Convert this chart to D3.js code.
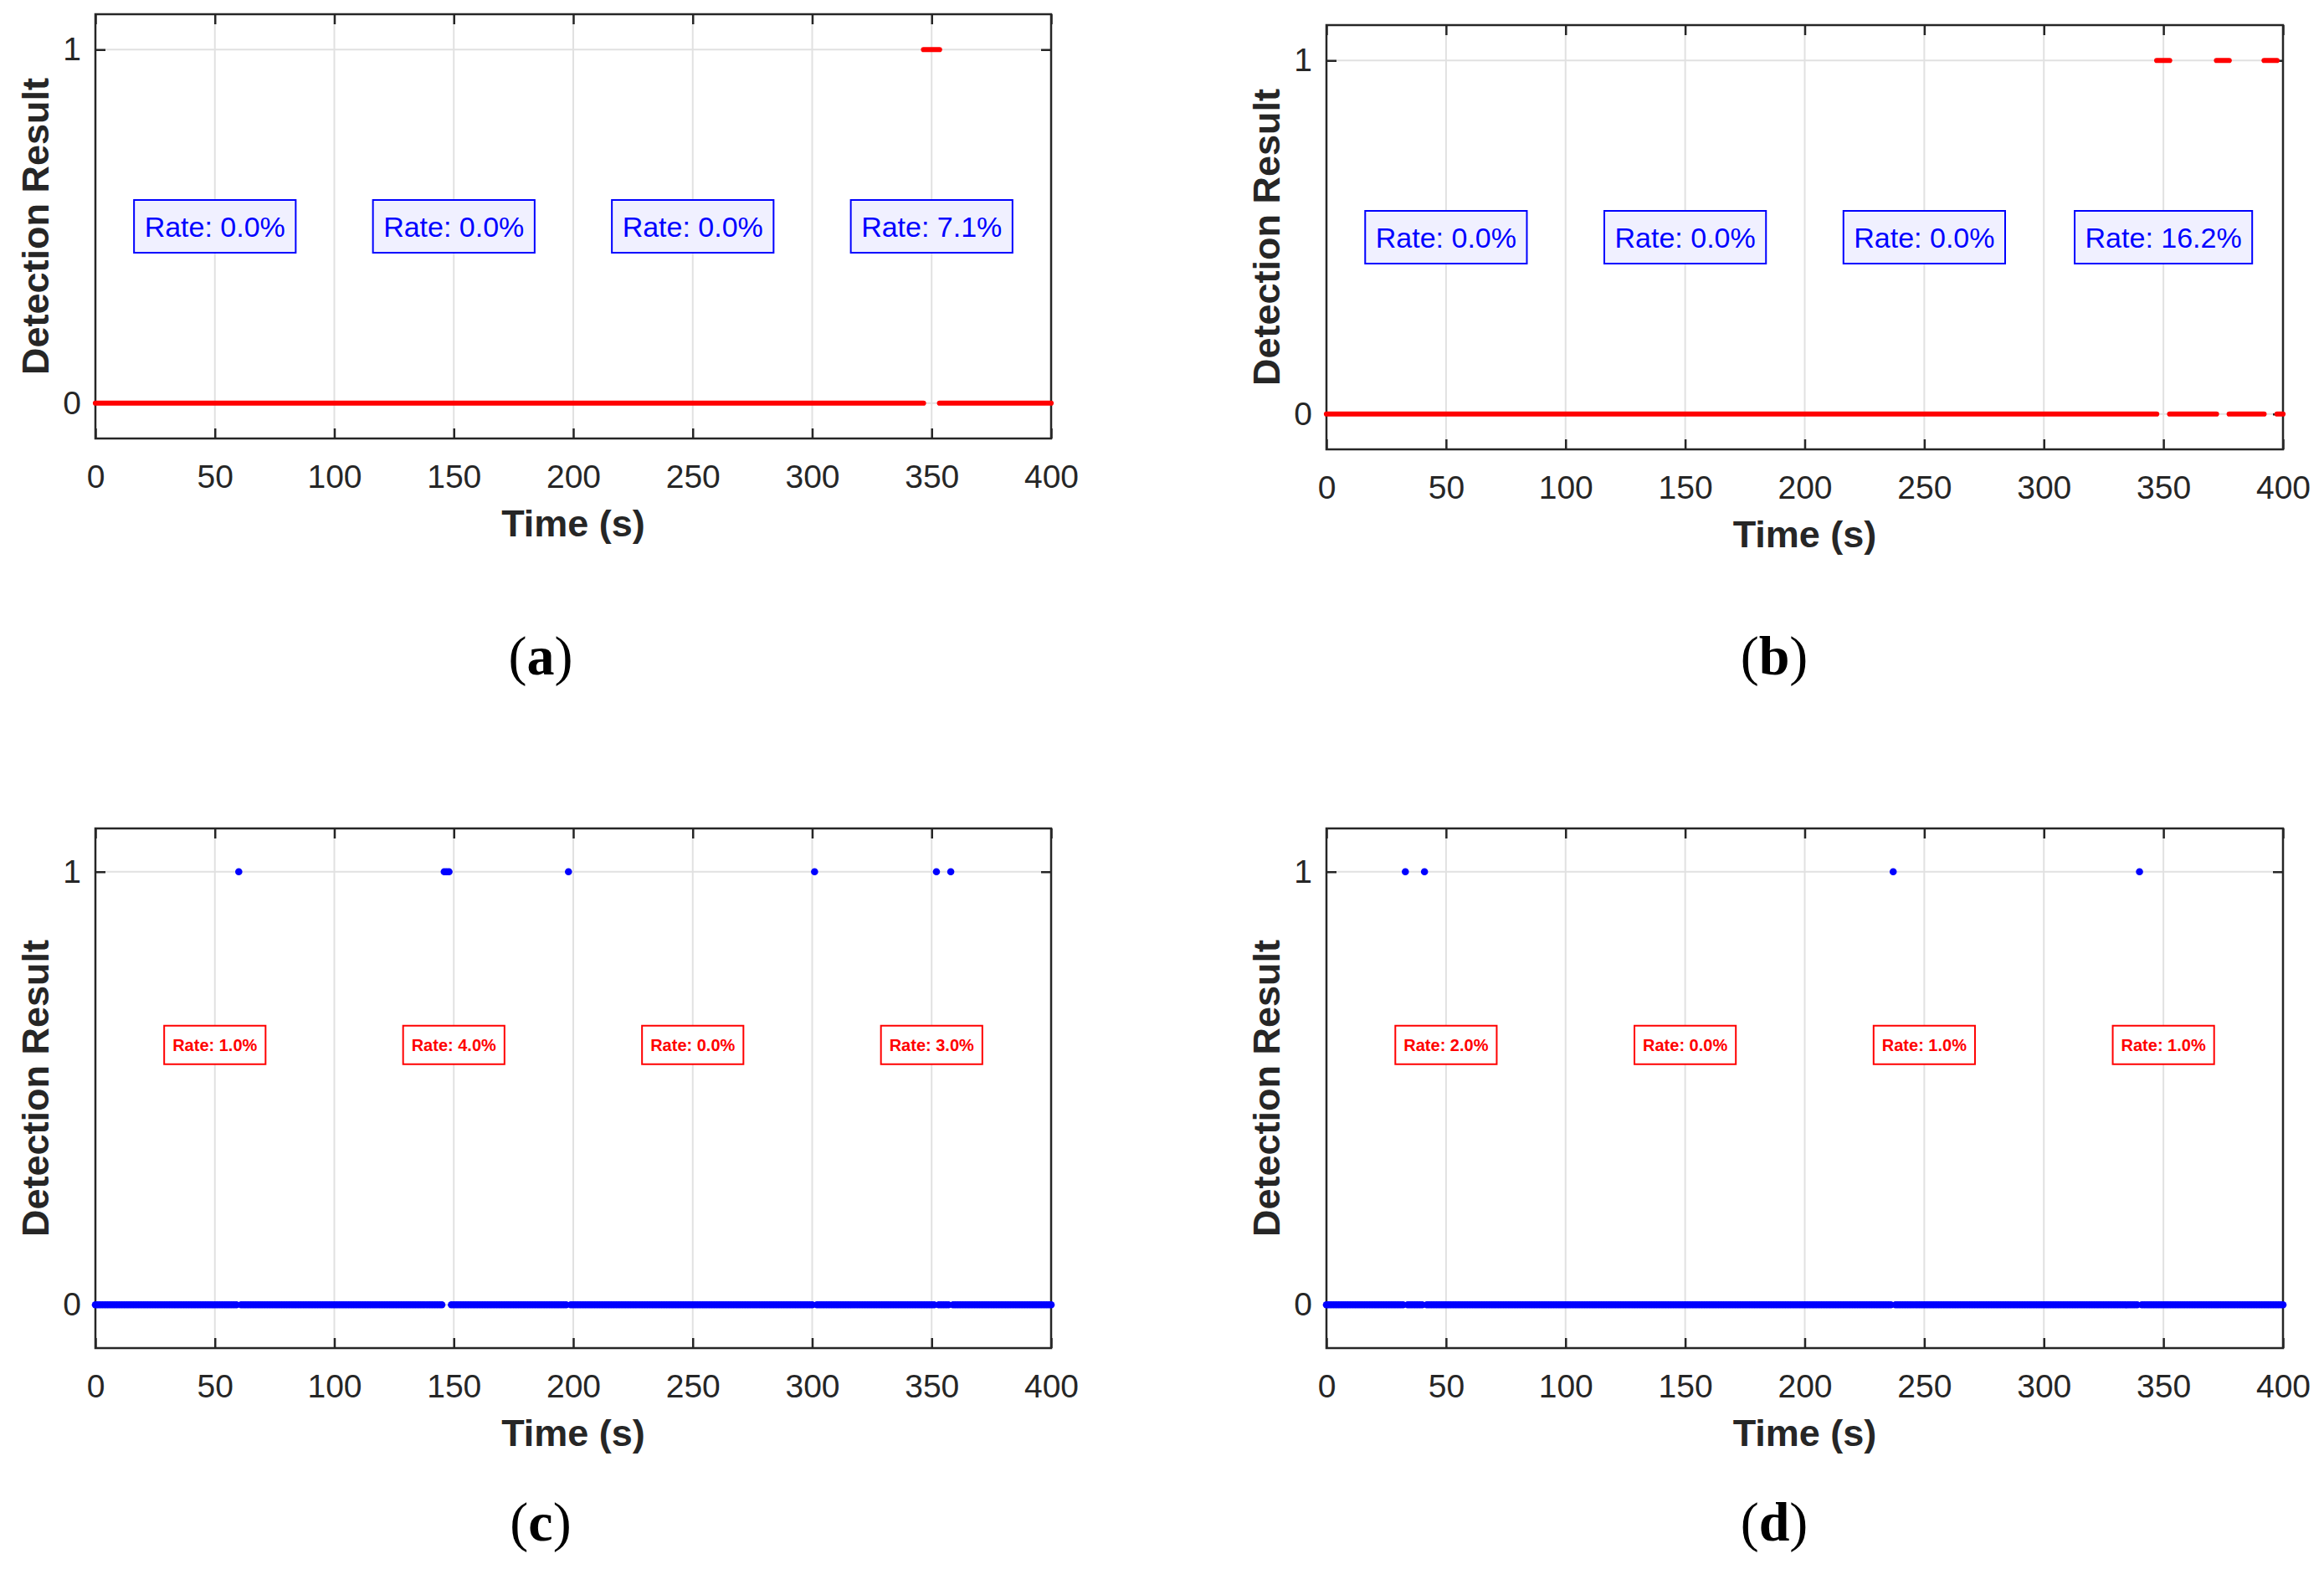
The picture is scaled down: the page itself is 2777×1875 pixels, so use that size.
<!DOCTYPE html>
<html>
<head>
<meta charset="utf-8">
<script src="https://cdn.jsdelivr.net/npm/d3@7"></script>
<style>
  body { margin: 0; background: #fff; }
  svg { display: block; }
</style>
</head>
<body>
<div id="chart"></div>
<script>
'use strict';

// shared axis values
var xTicks = [0, 50, 100, 150, 200, 250, 300, 350, 400];
var yTicks = [0, 1];
var rateCenters = [50, 150, 250, 350];

// (a), (b): detection intervals (s) where result = 1
var hitsA = [[346.6, 353.3]];
var hitsB = [[347.2, 352.6], [372.2, 377.5], [392.1, 397.5]];
var ratesA = ['0.0', '0.0', '0.0', '7.1'];
var ratesB = ['0.0', '0.0', '0.0', '16.2'];

// (c), (d): 1 s samples, seconds where result = 1
var hitsC = [60, 146, 147, 148, 198, 301, 352, 358];
var hitsD = [33, 41, 237, 340];
var ratesC = ['1.0', '4.0', '0.0', '3.0'];
var ratesD = ['2.0', '0.0', '1.0', '1.0'];

var W = 2777, H = 1875
  , font = '"Liberation Sans", Arial, Helvetica, sans-serif'
  , axisColor = '#262626'
  , gridColor = '#e1e1e1';

var svg = d3.select('#chart').append('svg')
  .attr('width', W)
  .attr('height', H)
  .style('font-family', font);

svg.append('rect').attr('width', W).attr('height', H).attr('fill', '#fff');

var panels = [
  { id: 'a', box: [114, 1256, 17, 524], kind: 'runs', hits: hitsA, rates: ratesA, label: [646, 806] },
  { id: 'b', box: [1585, 2728, 30, 537], kind: 'runs', hits: hitsB, rates: ratesB, label: [2120, 806] },
  { id: 'c', box: [114, 1256, 990, 1611], kind: 'dots', hits: hitsC, rates: ratesC, label: [646, 1841] },
  { id: 'd', box: [1585, 2728, 990, 1611], kind: 'dots', hits: hitsD, rates: ratesD, label: [2120, 1841] }
];

panels.forEach(function (p) {
  var left = p.box[0], right = p.box[1], top = p.box[2], bottom = p.box[3];
  var x = d3.scaleLinear().domain([0, 400]).range([left, right]);
  var y = d3.scaleLinear().domain([-0.1, 1.1]).range([bottom, top]);
  var g = svg.append('g').attr('class', 'panel-' + p.id);

  // grid
  g.selectAll('line.vgrid').data(xTicks).enter().append('line')
    .attr('x1', function (d) { return x(d); }).attr('x2', function (d) { return x(d); })
    .attr('y1', top).attr('y2', bottom)
    .attr('stroke', gridColor).attr('stroke-width', 2);
  g.selectAll('line.hgrid').data(yTicks).enter().append('line')
    .attr('y1', function (d) { return y(d); }).attr('y2', function (d) { return y(d); })
    .attr('x1', left).attr('x2', right)
    .attr('stroke', gridColor).attr('stroke-width', 2);

  // axes (ticks inward on all four sides)
  var fmt = d3.format('d');
  var ax = [
    { a: d3.axisBottom(x).tickValues(xTicks).tickFormat(fmt).tickSize(-12).tickPadding(31), t: 'translate(0,' + bottom + ')', lab: true },
    { a: d3.axisTop(x).tickValues(xTicks).tickSize(-12), t: 'translate(0,' + top + ')', lab: false },
    { a: d3.axisLeft(y).tickValues(yTicks).tickFormat(fmt).tickSize(-12).tickPadding(17), t: 'translate(' + left + ',0)', lab: true },
    { a: d3.axisRight(y).tickValues(yTicks).tickSize(-12), t: 'translate(' + right + ',0)', lab: false }
  ];
  ax.forEach(function (o) {
    var ga = g.append('g').attr('transform', o.t).call(o.a.tickSizeOuter(0));
    ga.select('.domain').remove();
    ga.selectAll('.tick line').attr('stroke', axisColor).attr('stroke-width', 2.5);
    ga.selectAll('.tick text')
      .style('font-family', font).style('font-size', '39px').attr('fill', axisColor)
      .style('display', o.lab ? null : 'none');
  });

  g.append('rect')
    .attr('x', left).attr('y', top)
    .attr('width', right - left).attr('height', bottom - top)
    .attr('fill', 'none').attr('stroke', axisColor).attr('stroke-width', 2.5);

  // data
  if (p.kind === 'runs') {
    var zeros = [], start = 0;
    p.hits.forEach(function (h) { zeros.push([start, h[0]]); start = h[1]; });
    zeros.push([start, 400]);
    var runs = zeros.map(function (r) { return { r: r, v: 0 }; })
      .concat(p.hits.map(function (r) { return { r: r, v: 1 }; }));
    g.selectAll('line.run').data(runs).enter().append('line')
      .attr('x1', function (d) { return x(d.r[0]); })
      .attr('x2', function (d) { return x(d.r[1]); })
      .attr('y1', function (d) { return y(d.v); })
      .attr('y2', function (d) { return y(d.v); })
      .attr('stroke', '#ff0000').attr('stroke-width', 6.2)
      .attr('stroke-linecap', 'round');
  } else {
    var samples = d3.range(0, 401).map(function (t) {
      return { t: t, v: p.hits.indexOf(t) >= 0 ? 1 : 0 };
    });
    g.selectAll('circle.pt').data(samples).enter().append('circle')
      .attr('cx', function (d) { return x(d.t); })
      .attr('cy', function (d) { return y(d.v); })
      .attr('r', 4.3)
      .attr('fill', '#0000ff');
  }

  // rate boxes
  var isRuns = p.kind === 'runs';
  var boxY = isRuns ? 0.5 : 0.6;
  p.rates.forEach(function (r, i) {
    var bg = g.append('g');
    var txt = bg.append('text')
      .attr('x', x(rateCenters[i]))
      .attr('y', y(boxY))
      .attr('dy', '0.36em')
      .attr('text-anchor', 'middle')
      .style('font-size', isRuns ? '34px' : '20px')
      .style('font-weight', isRuns ? 'normal' : 'bold')
      .attr('fill', isRuns ? '#0000ff' : '#ff0000')
      .text('Rate: ' + r + '%');
    var tw = txt.node().getComputedTextLength();
    var pad = isRuns ? 12.5 : 10, bh = isRuns ? 63 : 46;
    bg.insert('rect', 'text')
      .attr('x', x(rateCenters[i]) - tw / 2 - pad)
      .attr('y', y(boxY) - bh / 2)
      .attr('width', tw + 2 * pad)
      .attr('height', bh)
      .attr('fill', isRuns ? '#f0f0ff' : '#ffffff')
      .attr('stroke', isRuns ? '#0000ff' : '#ff0000')
      .attr('stroke-width', 2);
  });

  // axis titles
  g.append('text')
    .attr('x', (left + right) / 2)
    .attr('y', bottom + 117)
    .attr('text-anchor', 'middle')
    .style('font-size', '45px').style('font-weight', 'bold')
    .attr('fill', axisColor)
    .text('Time (s)');
  g.append('text')
    .attr('transform', 'translate(' + (left - 56) + ',' + ((top + bottom) / 2) + ') rotate(-90)')
    .attr('text-anchor', 'middle')
    .style('font-size', '45px').style('font-weight', 'bold')
    .attr('fill', axisColor)
    .text('Detection Result');

  // subfigure label
  var lab = svg.append('text')
    .attr('x', p.label[0]).attr('y', p.label[1])
    .attr('text-anchor', 'middle')
    .style('font-family', '"Liberation Serif", "DejaVu Serif", serif')
    .style('font-size', '66px')
    .attr('fill', '#000');
  lab.append('tspan').text('(');
  lab.append('tspan').style('font-weight', 'bold').text(p.id);
  lab.append('tspan').text(')');
});
</script>
</body>
</html>
